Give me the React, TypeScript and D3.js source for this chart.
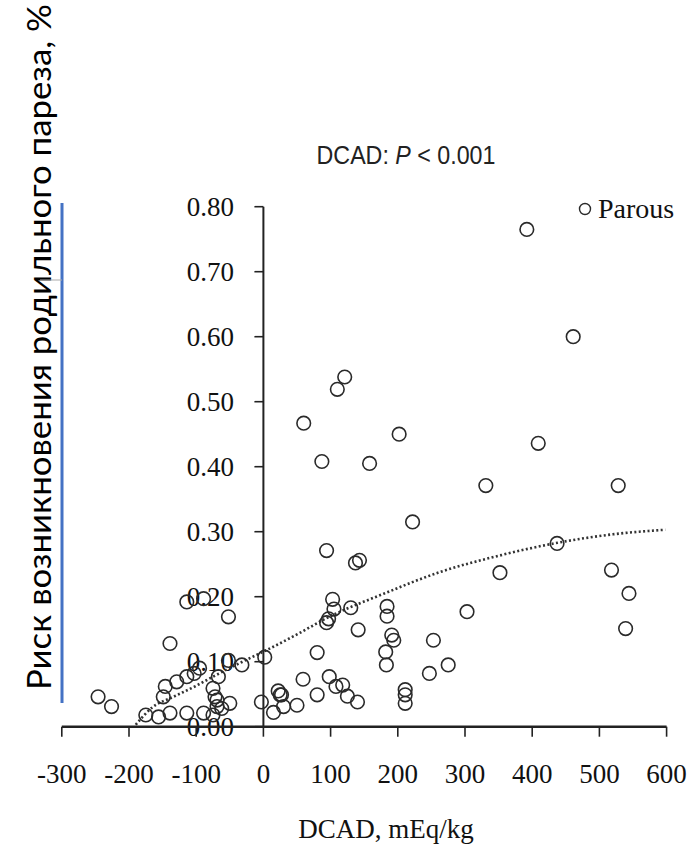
import React from "react";
import * as d3 from "d3";

const dcad = [
  392, 461, 409, 331, 528, 437, 352, 518, 544, 303, 539, 253, 275, 247,
  60, 110, 121, 87, 158, 202, 222, 94, 137, 143, 103, 105, 94, 97, 130, 141,
  184, 184, 191, 194, 182, 183, 80, 59, 80, 98, 108, 118, 125, 140, 211, 211,
  211, 2, -3, 22, 27, 30, 15, 50, 25, -32, -52, -50, -52, -114, -89, -139,
  -246, -226, -175, -156, -139, -114, -89, -146, -129, -114, -103, -95, -67,
  -75, -69, -62, -75, -149, -72, -69,
];
const risk = [
  0.765, 0.6, 0.436, 0.371, 0.371, 0.282, 0.237, 0.241, 0.205, 0.177, 0.151,
  0.133, 0.095, 0.082, 0.467, 0.519, 0.538, 0.408, 0.405, 0.45, 0.315, 0.271,
  0.252, 0.256, 0.196, 0.181, 0.16, 0.166, 0.183, 0.149, 0.185, 0.17, 0.141,
  0.133, 0.115, 0.095, 0.114, 0.073, 0.049, 0.077, 0.062, 0.064, 0.047, 0.038,
  0.057, 0.049, 0.036, 0.107, 0.038, 0.055, 0.049, 0.031, 0.022, 0.033, 0.049,
  0.095, 0.169, 0.036, 0.102, 0.192, 0.197, 0.128, 0.046, 0.031, 0.018, 0.015,
  0.021, 0.021, 0.021, 0.062, 0.069, 0.077, 0.082, 0.09, 0.077, 0.059, 0.041,
  0.028, 0.018, 0.046, 0.046, 0.031,
];

const trendX = [-190, -165, -134, -100, -75, -35, 5, 50, 94, 180, 263, 350, 438, 520, 598];
const trendY = [0.003, 0.03, 0.046, 0.063, 0.077, 0.098, 0.118, 0.142, 0.167, 0.205, 0.238, 0.263, 0.283, 0.296, 0.303];

const xTicks = [-300, -200, -100, 0, 100, 200, 300, 400, 500, 600];
const yTicks = [0, 0.1, 0.2, 0.3, 0.4, 0.5, 0.6, 0.7, 0.8];

const title = "DCAD: ";
const titleP = "P";
const titleRest = " < 0.001";
const xTitle = "DCAD, mEq/kg";
const yTitle = "Риск возникновения родильного пареза, %";
const legendLabel = "Parous";

export default function App() {
  const W = 692;
  const H = 851;
  const x = d3.scaleLinear().domain([-300, 600]).range([61.8, 666.6]);
  const y = d3.scaleLinear().domain([0, 0.8]).range([726.7, 206.7]);
  const serif = "'Liberation Serif', 'Times New Roman', serif";
  const fmt = d3.format(".2f");

  const line = d3
    .line<number>()
    .x((_, i) => x(trendX[i]))
    .y((_, i) => y(trendY[i]))
    .curve(d3.curveMonotoneX);

  const axisColor = "#222";

  return (
    <svg
      width={W}
      height={H}
      style={{ position: "absolute", left: 0, top: 0, background: "#fff" }}
    >
      <rect x={0} y={0} width={W} height={H} fill="#fff" />
      {/* y-axis title */}
      <text
        transform={`translate(51, 347) rotate(-90)`}
        textAnchor="middle"
        fontFamily="Lato, 'Open Sans', sans-serif"
        fontSize={32}
        fill="#000"
        textLength={686}
        lengthAdjust="spacingAndGlyphs"
      >
        {yTitle}
      </text>
      <line x1={62} x2={62} y1={203} y2={703} stroke="#4472C4" strokeWidth={3} />
      <line x1={40} x2={62} y1={280} y2={280} stroke="#aaa" strokeWidth={1} />

      {/* chart title */}
      <text
        transform="translate(406, 164) scale(0.93, 1)"
        textAnchor="middle"
        fontFamily="'Liberation Sans', Arial, sans-serif"
        fontSize={25}
        fill="#222"
      >
        {title}
        <tspan fontStyle="italic">{titleP}</tspan>
        {titleRest}
      </text>

      {/* y tick labels */}
      {yTicks.map((t) => (
        <text
          key={"yl" + t}
          x={234}
          y={y(t) + 9}
          textAnchor="end"
          fontFamily={serif}
          fontSize={27}
          fill="#111"
        >
          {fmt(t)}
        </text>
      ))}

      {/* axes */}
      <line x1={x(0)} x2={x(0)} y1={y(0.8)} y2={y(0)} stroke={axisColor} strokeWidth={2} />
      {yTicks.map((t) => (
        <line
          key={"yt" + t}
          x1={x(0) - 9}
          x2={x(0)}
          y1={y(t)}
          y2={y(t)}
          stroke={axisColor}
          strokeWidth={1.6}
        />
      ))}
      <line x1={x(-300)} x2={x(600)} y1={y(0)} y2={y(0)} stroke={axisColor} strokeWidth={2.4} />
      {xTicks.map((t) => (
        <line
          key={"xt" + t}
          x1={x(t)}
          x2={x(t)}
          y1={y(0)}
          y2={y(0) + 10}
          stroke={axisColor}
          strokeWidth={1.6}
        />
      ))}
      {xTicks.map((t) => (
        <text
          key={"xl" + t}
          x={x(t)}
          y={783}
          textAnchor="middle"
          fontFamily={serif}
          fontSize={27}
          fill="#111"
        >
          {String(t)}
        </text>
      ))}
      <text
        x={386}
        y={838}
        textAnchor="middle"
        fontFamily={serif}
        fontSize={27}
        fill="#111"
      >
        {xTitle}
      </text>

      {/* trend */}
      <path
        d={line(trendX) || ""}
        fill="none"
        stroke="#333"
        strokeWidth={2.6}
        strokeDasharray="2 2.4"
      />

      {/* points */}
      {dcad.map((d, i) => (
        <circle
          key={"p" + i}
          cx={x(d)}
          cy={y(risk[i])}
          r={6.8}
          fill="none"
          stroke="#2a2a2a"
          strokeWidth={1.6}
        />
      ))}

      {/* legend */}
      <circle cx={585} cy={209} r={5.5} fill="none" stroke="#2a2a2a" strokeWidth={1.4} />
      <text x={598} y={218} fontFamily={serif} fontSize={28} fill="#111">
        {legendLabel}
      </text>
    </svg>
  );
}
